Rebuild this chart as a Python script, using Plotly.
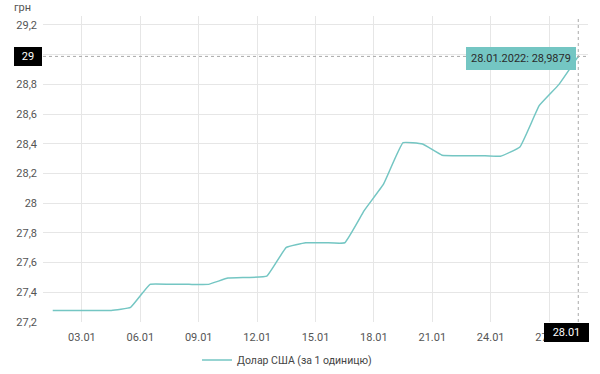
import plotly.graph_objects as go

dates = [f"2022-01-{d:02d} 12:00" for d in range(1, 29)]
rates = [27.2782, 27.2782, 27.2782, 27.2782, 27.2986, 27.4533, 27.4533, 27.4533,
         27.4533, 27.4958, 27.5000, 27.5085, 27.7020, 27.7335, 27.7335, 27.7335,
         27.9500, 28.1300, 28.4070, 28.3980, 28.3230, 28.3200, 28.3200, 28.3160,
         28.3780, 28.6580, 28.7980, 28.9879]
series_name = "Долар США (за 1 одиницю)"
tick_dates = [f"2022-01-{d:02d}" for d in range(3, 28, 3)]
tick_labels = [f"{d:02d}.01" for d in range(3, 28, 3)]
y_ticks = [27.2, 27.4, 27.6, 27.8, 28, 28.2, 28.4, 28.6, 28.8, 29, 29.2]
y_labels = ["27,2", "27,4", "27,6", "27,8", "28", "28,2", "28,4", "28,6", "28,8", "29", "29,2"]

line_color = "#74c6c3"
font = "Roboto"
fs = 11

fig = go.Figure()
fig.add_trace(go.Scatter(
    x=dates, y=rates, mode="lines", name=series_name,
    line=dict(color=line_color, width=1.5, shape="spline", smoothing=0.3),
    showlegend=True,
))

last_x, last_y = dates[-1], rates[-1]
tooltip_text = "28.01.2022: " + f"{last_y:.4f}".replace(".", ",")

# crosshair
fig.add_shape(type="line", xref="paper", yref="y", x0=0, x1=1, y0=last_y, y1=last_y,
              line=dict(color="#aaaaaa", width=1, dash="dot"))
fig.add_shape(type="line", xref="x", yref="paper", x0=last_x, x1=last_x, y0=0, y1=1,
              line=dict(color="#aaaaaa", width=1, dash="dot"))

fig.add_annotation(x=last_x, y=last_y, xref="x", yref="y", text=tooltip_text,
                   showarrow=False, xanchor="right", yanchor="middle", xshift=-2, yshift=-2,
                   bgcolor=line_color, bordercolor=line_color, borderpad=4,
                   font=dict(family=font, size=fs, color="#2b2b2b"))
fig.add_annotation(x=0, y=last_y, xref="paper", yref="y", text="29",
                   showarrow=False, xanchor="right", yanchor="middle", xshift=-1,
                   bgcolor="#000000", bordercolor="#000000", borderpad=2,
                   font=dict(family=font, size=fs, color="#ffffff"), width=22)
fig.add_annotation(x=last_x, y=0, xref="x", yref="paper", text="28.01",
                   showarrow=False, xanchor="right", yanchor="top", xshift=11, yshift=-1,
                   bgcolor="#000000", bordercolor="#000000", borderpad=2,
                   font=dict(family=font, size=fs, color="#ffffff"), width=39)
fig.add_annotation(x=0, y=1, xref="paper", yref="paper", text="грн", showarrow=False,
                   xanchor="right", yanchor="bottom", xshift=-10, yshift=0,
                   font=dict(family=font, size=fs, color="#555555"))

fig.update_layout(
    width=600, height=374,
    margin=dict(l=43, r=12, t=16, b=52, autoexpand=False),
    paper_bgcolor="white", plot_bgcolor="white",
    font=dict(family=font, size=fs, color="#555555"),
    separators=", ",
    xaxis=dict(
        type="date", range=["2022-01-01", "2022-01-29"],
        tickvals=tick_dates, ticktext=tick_labels, automargin=False,
        showgrid=True, gridcolor="#e6e6e6", gridwidth=1,
        showline=False, zeroline=False, ticks="", ticklabelstandoff=7,
        tickfont=dict(family=font, size=fs, color="#555555"),
    ),
    yaxis=dict(
        range=[27.2, 29.26], tickvals=y_ticks, ticktext=y_labels, automargin=False,
        showgrid=True, gridcolor="#e6e6e6", gridwidth=1,
        zeroline=False, showline=False, ticks="", ticklabelstandoff=5,
        tickfont=dict(family=font, size=fs, color="#555555"),
    ),
    legend=dict(orientation="h", x=0.2826, xanchor="left", y=-0.124, yanchor="middle",
                font=dict(family=font, size=10.5, color="#444444")),
)

fig.write_html("out.html", config={"displayModeBar": False},
               post_script="document.body.style.margin='0';")
